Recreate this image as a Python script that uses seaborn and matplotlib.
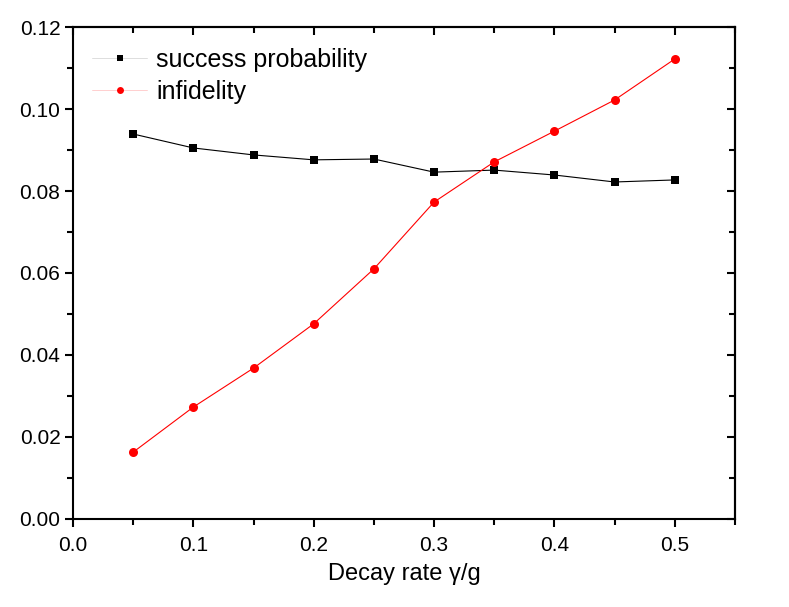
import matplotlib
matplotlib.use("Agg")
import matplotlib.pyplot as plt
import seaborn as sns
import pandas as pd
from matplotlib.ticker import MultipleLocator, FormatStrFormatter

# values
decay_rate = [0.05, 0.10, 0.15, 0.20, 0.25, 0.30, 0.35, 0.40, 0.45, 0.50]
success_prob = [0.0939, 0.0905, 0.0888, 0.0876, 0.0878, 0.0846, 0.0851, 0.0839, 0.0822, 0.0827]
infidelity = [0.0163, 0.0273, 0.0368, 0.0476, 0.0610, 0.0773, 0.0871, 0.0946, 0.1022, 0.1122]

df = pd.DataFrame({"rate": decay_rate, "success probability": success_prob, "infidelity": infidelity})

sns.set_style("ticks")
plt.rcParams["font.family"] = ["Liberation Sans", "DejaVu Sans"]
plt.rcParams.update({"text.color": "black", "axes.labelcolor": "black",
                     "xtick.color": "black", "ytick.color": "black", "axes.edgecolor": "black"})

fig = plt.figure(figsize=(7.89, 6.07), dpi=100)
ax = fig.add_axes([0.0925, 0.145, 0.839, 0.8105])

sns.lineplot(data=df, x="rate", y="success probability", ax=ax, color="black", lw=0.8,
             marker="s", markersize=6, markeredgewidth=0, label="success probability")
sns.lineplot(data=df, x="rate", y="infidelity", ax=ax, color="red", lw=0.8,
             marker="o", markersize=6.5, markeredgewidth=0, label="infidelity")

ax.set_xlim(0, 0.55)
ax.set_ylim(0, 0.12)
ax.xaxis.set_major_locator(MultipleLocator(0.1))
ax.xaxis.set_minor_locator(MultipleLocator(0.05))
ax.yaxis.set_major_locator(MultipleLocator(0.02))
ax.yaxis.set_minor_locator(MultipleLocator(0.01))
ax.xaxis.set_major_formatter(FormatStrFormatter("%.1f"))
ax.yaxis.set_major_formatter(FormatStrFormatter("%.2f"))

ax.tick_params(which="major", direction="out", length=6, width=1.5, labelsize=15, pad=3)
ax.tick_params(which="minor", direction="out", length=4, width=1.5)
ax.tick_params(axis="x", which="major", pad=6)

for s in ax.spines.values():
    s.set_visible(True)
    s.set_linewidth(1.5)
    s.set_color("black")

# inward ticks on top and right, no labels
top = ax.secondary_xaxis("top")
top.xaxis.set_major_locator(MultipleLocator(0.1))
top.xaxis.set_minor_locator(MultipleLocator(0.05))
top.tick_params(which="major", direction="in", length=6, width=1.5, labeltop=False)
top.tick_params(which="minor", direction="in", length=4, width=1.5)
top.spines["top"].set_linewidth(1.5)
right = ax.secondary_yaxis("right")
right.yaxis.set_major_locator(MultipleLocator(0.02))
right.yaxis.set_minor_locator(MultipleLocator(0.01))
right.tick_params(which="major", direction="in", length=6, width=1.5, labelright=False)
right.tick_params(which="minor", direction="in", length=4, width=1.5)
right.spines["right"].set_linewidth(1.5)

ax.set_xlabel("Decay rate γ/g", fontsize=17, labelpad=6)
ax.set_ylabel("")

leg = ax.legend(loc="upper left", frameon=False, fontsize=18, handlelength=2.2,
                borderaxespad=0, borderpad=0, handletextpad=0.35, labelspacing=0.3,
                bbox_to_anchor=(0.029, 0.957))
for h, c, lc in zip(leg.get_lines(), ["black", "red"], ["#d8d8d8", "#ffc8c8"]):
    h.set_linewidth(0.6)
    h.set_color(lc)
    h.set_markerfacecolor(c)
    h.set_markeredgecolor(c)
    h.set_markersize(5)

fig.savefig("out.png", dpi=100)
